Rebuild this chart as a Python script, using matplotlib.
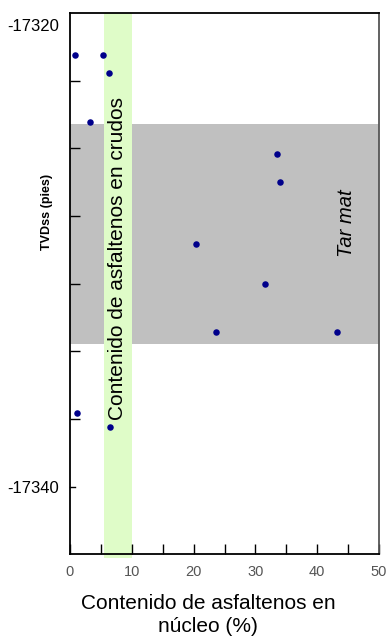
import numpy as np
import matplotlib.pyplot as plt

plt.rcParams["font.family"] = ["Liberation Sans", "DejaVu Sans"]

# core asphaltene content (%) vs depth (TVDss, ft)
asph = [0.8, 5.3, 6.3, 3.2, 33.5, 33.9, 20.4, 31.5, 23.6, 43.2, 1.2, 6.5]
depth = [-17321.3, -17321.3, -17322.1, -17324.2, -17325.6, -17326.8,
         -17329.5, -17331.2, -17333.3, -17333.3, -17336.8, -17337.4]

tarmat_top = -17324.3
tarmat_base = -17333.8
crude_lo = 5.5
crude_hi = 10.0

fig = plt.figure(figsize=(3.88, 6.39), dpi=100)
ax = fig.add_axes([70 / 388, 1 - 554 / 639, 309 / 388, 541 / 639])

y_top = -17319.5
y_bot = -17342.9
ax.set_xlim(0, 50)
ax.set_ylim(y_bot, y_top)

# tar mat band and crude asphaltene band
ax.axhspan(tarmat_base, tarmat_top, color="#c0c0c0", zorder=0, lw=0)
ax.axvspan(crude_lo, crude_hi, ymin=-0.008, ymax=1, color="#dffcc8",
           zorder=1, lw=0, clip_on=False)

ax.scatter(asph, depth, s=22, color="#00008b", zorder=3, lw=0)

ax.text((crude_lo + crude_hi) / 2, -17330.1, "Contenido de asfaltenos en crudos",
        rotation=90, ha="center", va="center", fontsize=15, zorder=2)
ax.text(44.8, -17328.6, "Tar mat", rotation=90, ha="center", va="center",
        fontsize=14.5, style="italic", zorder=2)

# ticks
ax.set_xticks([0, 10, 20, 30, 40, 50])
ax.set_xticks([5, 15, 25, 35, 45], minor=True)
ax.tick_params(axis="x", which="both", direction="in", length=7, width=1,
               labelsize=10.5, labelcolor="#555555", pad=8)

ax.set_yticks([-17320, -17340])
ax.set_yticklabels(["-17320", "-17340"])
ax.set_yticks(np.linspace(y_top, y_bot, 9)[1:7], minor=True)
ax.tick_params(axis="y", which="major", direction="in", length=0, labelsize=12, pad=8)
ax.tick_params(axis="y", which="minor", direction="in", length=7, width=1)
# the reference has a tick right at -17340 too
ax.plot([0, 0.8], [-17340, -17340], color="black", lw=1, clip_on=False, zorder=4)

for s in ["left", "bottom", "top"]:
    ax.spines[s].set_linewidth(1.3)
    ax.spines[s].set_color("black")
ax.spines["right"].set_color("#555555")
ax.spines["right"].set_linewidth(1.3)

fig.text(47 / 388, 1 - 212 / 639, "TVDss (pies)", rotation=90, ha="center",
         va="center", fontsize=9, fontweight="bold")
fig.text(208 / 388, 1 - 615 / 639, "Contenido de asfaltenos en\nnúcleo (%)",
         ha="center", va="center", fontsize=15, linespacing=1.3)

fig.savefig("out.png", dpi=100)
